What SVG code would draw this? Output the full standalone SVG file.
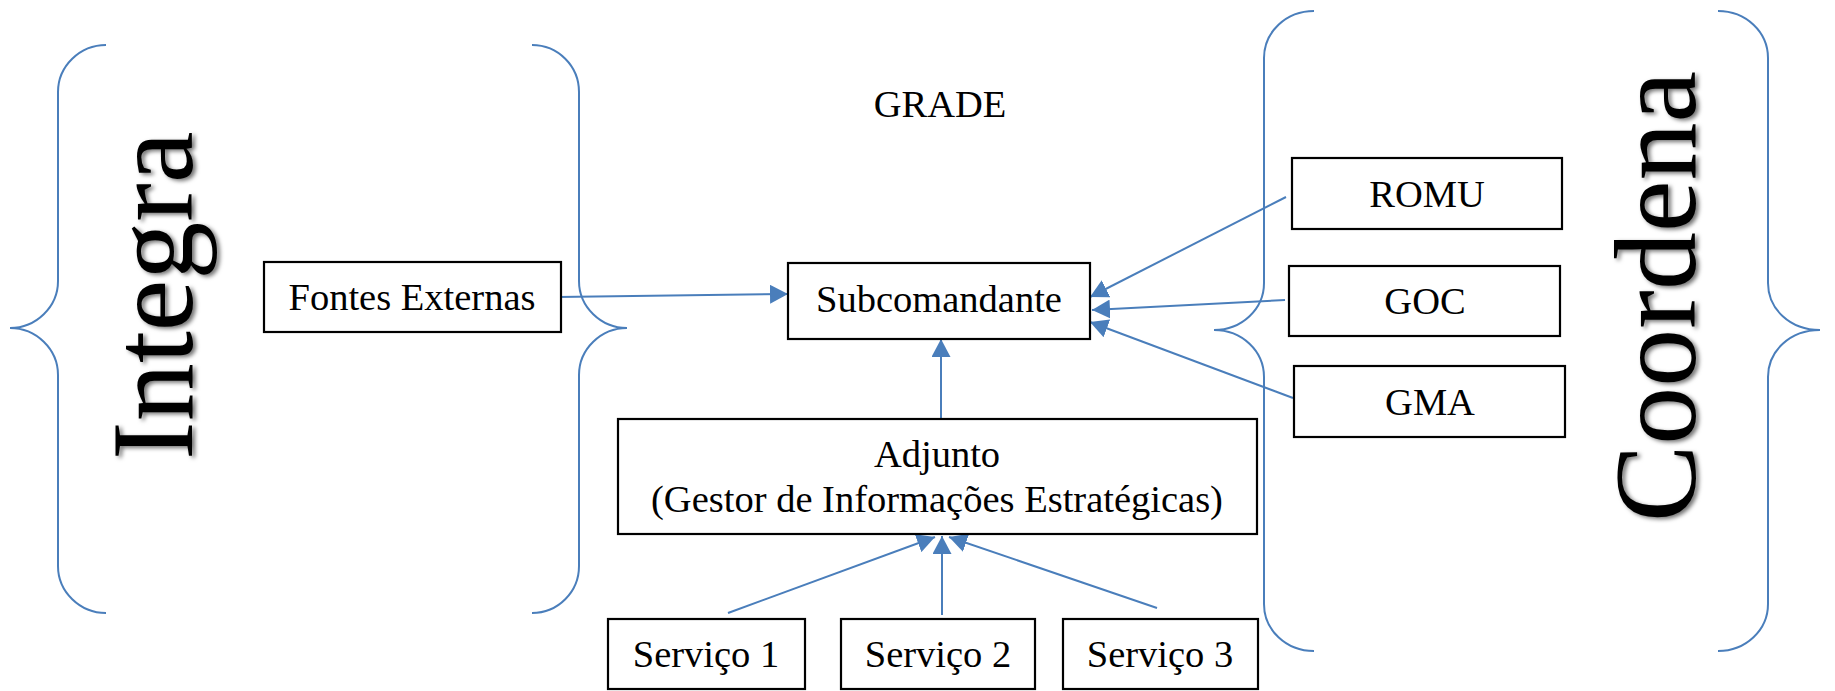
<svg xmlns="http://www.w3.org/2000/svg" width="1835" height="691" viewBox="0 0 1835 691">
<style>
.box{fill:#fff;stroke:#000;stroke-width:2.2}
.t{font-family:"Liberation Serif","Times New Roman",serif;font-size:38.5px;fill:#000;text-anchor:middle}
.big{font-family:"Liberation Serif","Times New Roman",serif;font-size:116px;fill:#000}
.brace{fill:none;stroke:#4a7ebb;stroke-width:2}
.conn{fill:none;stroke:#4a7ebb;stroke-width:2;marker-end:url(#ah)}
</style>
<defs>
<marker id="ah" viewBox="0 0 18 19" refX="18" refY="9.5" markerWidth="18" markerHeight="19" markerUnits="userSpaceOnUse" orient="auto"><path d="M0,0 L18,9.5 L0,19 z" fill="#4a7ebb"/></marker>
<filter id="sh" x="-20%" y="-20%" width="140%" height="140%"><feDropShadow dx="3" dy="2" stdDeviation="2.2" flood-color="#000" flood-opacity="0.55"/></filter>
</defs>
<rect width="1835" height="691" fill="#fff"/>
<g id="braces">
<path class="brace" d="M106,45 C80,45 58,66 58,92 V281 C58,307 36,328 10,328 C36,328 58,349 58,375 V566 C58,592 80,613 106,613"/>
<path class="brace" d="M532,45 C558,45 579,66 579,92 V281 C579,307 601,328 627,328 C601,328 579,349 579,375 V566 C579,592 558,613 532,613"/>
<path class="brace" d="M1314,11 C1286,11 1264,32 1264,58 V283 C1264,309 1242,330 1214,330 C1242,330 1264,351 1264,377 V604 C1264,630 1286,651 1314,651"/>
<path class="brace" d="M1718,11 C1746,11 1768,32 1768,58 V283 C1768,309 1790,330 1820,330 C1790,330 1768,351 1768,377 V604 C1768,630 1746,651 1718,651"/>
</g>
<g id="integra" filter="url(#sh)"><text class="big" transform="translate(192,460) rotate(-90)">Integra</text></g>
<g id="coordena" filter="url(#sh)"><text class="big" transform="translate(1695,522) rotate(-90)">Coordena</text></g>
<g id="grade"><text class="t" x="940" y="117">GRADE</text></g>
<g id="connectors">
<line class="conn" x1="558" y1="297" x2="788" y2="294"/>
<line class="conn" x1="1286" y1="197" x2="1090" y2="297"/>
<line class="conn" x1="1285" y1="300" x2="1092" y2="310"/>
<line class="conn" x1="1293" y1="398" x2="1090" y2="322"/>
<line class="conn" x1="941" y1="419" x2="941" y2="339"/>
<line class="conn" x1="728" y1="613" x2="935" y2="537"/>
<line class="conn" x1="942" y1="615" x2="942" y2="536"/>
<line class="conn" x1="1157" y1="608" x2="949" y2="537"/>
</g>
<g id="fontes"><rect class="box" x="264" y="262" width="297" height="70"/><text class="t" x="412" y="310">Fontes Externas</text></g>
<g id="subcomandante"><rect class="box" x="788" y="263" width="302" height="76"/><text class="t" x="939" y="312">Subcomandante</text></g>
<g id="romu"><rect class="box" x="1292" y="158" width="270" height="71"/><text class="t" x="1427" y="207">ROMU</text></g>
<g id="goc"><rect class="box" x="1289" y="266" width="271" height="70"/><text class="t" x="1425" y="314">GOC</text></g>
<g id="gma"><rect class="box" x="1294" y="366" width="271" height="71"/><text class="t" x="1430" y="415">GMA</text></g>
<g id="adjunto"><rect class="box" x="618" y="419" width="639" height="115"/><text class="t" x="937" y="467">Adjunto</text><text class="t" x="937" y="512">(Gestor de Informações Estratégicas)</text></g>
<g id="servico1"><rect class="box" x="608" y="619" width="197" height="70"/><text class="t" x="706" y="667">Serviço 1</text></g>
<g id="servico2"><rect class="box" x="841" y="619" width="194" height="70"/><text class="t" x="938" y="667">Serviço 2</text></g>
<g id="servico3"><rect class="box" x="1063" y="619" width="195" height="70"/><text class="t" x="1160" y="667">Serviço 3</text></g>
</svg>
